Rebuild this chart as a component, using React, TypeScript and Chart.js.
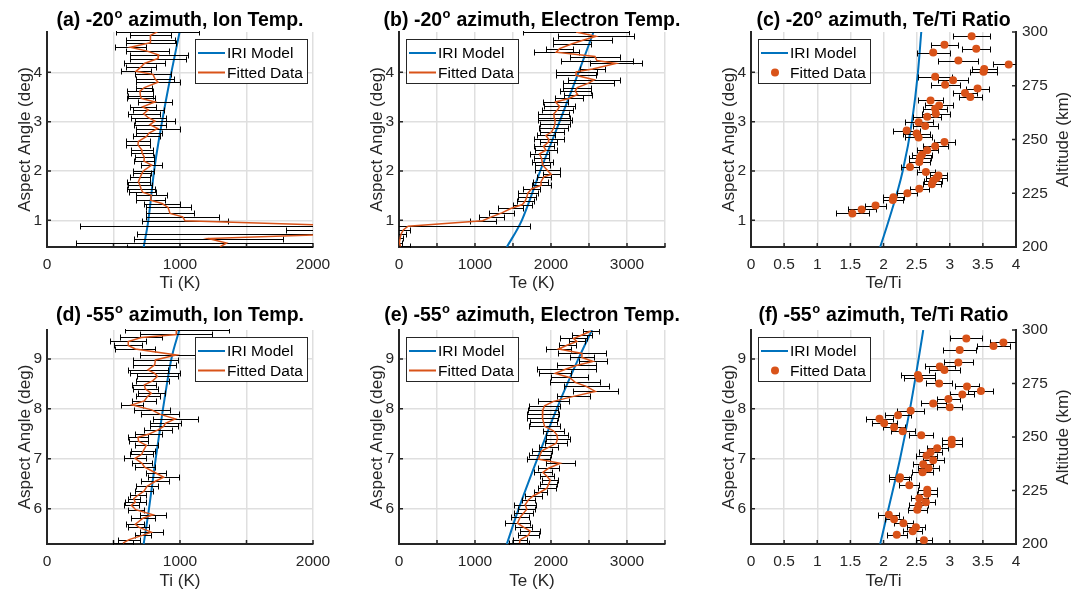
import React, { useEffect, useRef } from 'react';
import { Chart, registerables } from 'chart.js';

Chart.register(...registerables);

const FONT = '"Liberation Sans", Arial, Helvetica, sans-serif';
const BLUE = '#0072BD';
const ORANGE = '#D95319';
const AXIS = '#262626';
const GRID = '#dfdfdf';
const TXT = '#262626';

// ---------- tick values ----------
const tiTicks = [0, 500, 1000, 1500, 2000];
const teTicks = [0, 500, 1000, 1500, 2000, 2500, 3000, 3500];
const ratioTicks = [0, 0.5, 1, 1.5, 2, 2.5, 3, 3.5, 4];
const topAngleTicks = [1, 2, 3, 4];
const bottomAngleTicks = [6, 7, 8, 9];
const altitudeTicks = [200, 225, 250, 275, 300];

// ---------- (a) -20 azimuth, ion temperature ----------
const aAngle = [4.82, 4.75, 4.66, 4.6, 4.51, 4.43, 4.35, 4.28, 4.18, 4.11, 4.02, 3.96, 3.87, 3.8, 3.69, 3.62, 3.53, 3.47, 3.4, 3.3, 3.24, 3.16, 3.08, 3.01, 2.94, 2.86, 2.77, 2.7, 2.6, 2.53, 2.43, 2.37, 2.28, 2.2, 2.12, 2.0, 1.95, 1.88, 1.78, 1.71, 1.64, 1.57, 1.51, 1.41, 1.34, 1.26, 1.14, 1.07, 0.99, 0.88, 0.8, 0.73, 0.63, 0.54, 0.46];
const aTi = [830, 777, 777, 779, 627, 754, 840, 835, 732, 707, 669, 797, 812, 835, 732, 699, 702, 709, 812, 719, 762, 727, 762, 812, 774, 832, 767, 749, 687, 684, 712, 714, 732, 729, 787, 724, 714, 702, 687, 699, 707, 719, 784, 779, 865, 910, 925, 1020, 1038, 2400, 2500, 2300, 1213, 1350, 1300];
const aTiErr = [313, 156, 182, 188, 119, 163, 219, 208, 153, 115, 115, 138, 140, 163, 60, 96, 94, 106, 128, 98, 115, 119, 134, 154, 122, 165, 96, 104, 90, 88, 84, 86, 69, 75, 79, 78, 69, 75, 84, 91, 103, 103, 118, 109, 132, 169, 178, 273, 322, 2150, 700, 1620, 560, 1130, 700];

// ---------- (b) -20 azimuth, electron temperature ----------
const bAngle = [4.82, 4.73, 4.65, 4.58, 4.48, 4.41, 4.32, 4.24, 4.18, 4.07, 4.01, 3.94, 3.85, 3.78, 3.69, 3.62, 3.55, 3.47, 3.4, 3.31, 3.24, 3.16, 3.08, 3.03, 2.95, 2.88, 2.79, 2.72, 2.64, 2.59, 2.5, 2.42, 2.35, 2.26, 2.18, 2.12, 2.01, 1.93, 1.88, 1.78, 1.71, 1.64, 1.55, 1.47, 1.39, 1.32, 1.24, 1.15, 1.07, 0.99, 0.88, 0.81, 0.73, 0.64, 0.55, 0.47];
const bTe = [2330, 2591, 2420, 2279, 2113, 2069, 2578, 2604, 2855, 2547, 2332, 2328, 2569, 2495, 2345, 2319, 2350, 2236, 2060, 2113, 2086, 2038, 2042, 2055, 2051, 2038, 2007, 1933, 1972, 1968, 1902, 1933, 1849, 1875, 1884, 1889, 1954, 2003, 1906, 1867, 1871, 1748, 1695, 1682, 1660, 1625, 1471, 1353, 1217, 1100, 120, 60, 30, 15, 5, 20];
const bTeErr = [700, 505, 389, 252, 182, 296, 325, 472, 340, 165, 270, 266, 340, 338, 182, 206, 184, 182, 169, 204, 209, 204, 209, 220, 193, 191, 158, 121, 193, 110, 132, 143, 125, 105, 138, 99, 165, 110, 92, 99, 125, 110, 132, 121, 110, 121, 165, 165, 167, 170, 1600, 90, 60, 40, 30, 130];

// ---------- (c) -20 azimuth, Te/Ti ----------
const cAngle = [4.73, 4.56, 4.48, 4.4, 4.24, 4.16, 4.07, 4.01, 3.91, 3.84, 3.75, 3.67, 3.58, 3.5, 3.43, 3.33, 3.26, 3.16, 3.1, 2.99, 2.91, 2.82, 2.76, 2.68, 2.59, 2.5, 2.42, 2.33, 2.27, 2.18, 2.08, 1.98, 1.91, 1.86, 1.8, 1.73, 1.64, 1.55, 1.47, 1.41, 1.3, 1.22, 1.14];
const cRatio = [3.33, 2.92, 3.4, 2.75, 3.13, 3.89, 3.52, 3.51, 2.78, 3.05, 2.93, 3.42, 3.23, 3.31, 2.71, 2.84, 2.78, 2.79, 2.66, 2.53, 2.63, 2.35, 2.5, 2.53, 2.92, 2.78, 2.66, 2.58, 2.55, 2.54, 2.4, 2.64, 2.83, 2.8, 2.75, 2.73, 2.54, 2.36, 2.15, 2.14, 1.88, 1.67, 1.53];
const cRatioErr = [0.28, 0.2, 0.21, 0.25, 0.3, 0.24, 0.19, 0.21, 0.26, 0.23, 0.22, 0.17, 0.18, 0.17, 0.19, 0.21, 0.18, 0.21, 0.21, 0.21, 0.19, 0.2, 0.2, 0.2, 0.16, 0.19, 0.16, 0.15, 0.16, 0.16, 0.14, 0.13, 0.13, 0.16, 0.14, 0.14, 0.14, 0.15, 0.16, 0.15, 0.16, 0.21, 0.25];

// ---------- IRI model, top row ----------
const topIriAngle = [0.459, 1, 2, 3, 4, 4.818];
const aIriTi = [727, 762, 805, 865, 935, 997];
const bIriTe = [1419, 1616, 1858, 2113, 2363, 2560];
const cIriRatio = [1.95, 2.08, 2.29, 2.43, 2.52, 2.57];

// ---------- (d) -55 azimuth, ion temperature ----------
const dAngle = [9.58, 9.49, 9.43, 9.35, 9.27, 9.2, 9.08, 8.98, 8.88, 8.78, 8.71, 8.65, 8.56, 8.48, 8.4, 8.31, 8.25, 8.16, 8.08, 7.98, 7.89, 7.8, 7.71, 7.65, 7.58, 7.49, 7.43, 7.35, 7.27, 7.16, 7.09, 7.01, 6.91, 6.83, 6.71, 6.63, 6.55, 6.45, 6.35, 6.27, 6.2, 6.13, 6.07, 5.98, 5.88, 5.81, 5.69, 5.63, 5.53, 5.47, 5.38, 5.31];
const dTi = [975, 972, 709, 611, 611, 664, 972, 815, 810, 759, 810, 830, 794, 732, 739, 784, 757, 732, 639, 787, 852, 965, 890, 877, 835, 762, 684, 689, 747, 724, 712, 662, 714, 734, 822, 877, 815, 752, 729, 684, 652, 664, 634, 667, 797, 722, 664, 689, 784, 722, 617, 571];
const dTiErr = [392, 269, 157, 135, 104, 149, 276, 169, 163, 150, 188, 154, 123, 90, 94, 100, 90, 90, 81, 135, 144, 169, 117, 106, 108, 103, 75, 69, 88, 91, 85, 85, 76, 75, 75, 119, 106, 81, 71, 63, 44, 81, 58, 59, 100, 90, 69, 81, 88, 63, 84, 75];

// ---------- (e) -55 azimuth, electron temperature ----------
const eAngle = [9.56, 9.48, 9.41, 9.35, 9.28, 9.2, 9.11, 9.03, 8.95, 8.87, 8.8, 8.71, 8.63, 8.53, 8.45, 8.35, 8.25, 8.15, 8.06, 7.98, 7.89, 7.81, 7.73, 7.65, 7.56, 7.48, 7.4, 7.31, 7.23, 7.16, 7.08, 6.99, 6.91, 6.81, 6.73, 6.65, 6.57, 6.49, 6.41, 6.33, 6.26, 6.18, 6.08, 5.99, 5.91, 5.83, 5.71, 5.63, 5.55, 5.47, 5.38, 5.31];
const eTe = [2526, 2407, 2297, 2341, 2218, 2100, 2407, 2407, 2552, 2332, 2200, 2055, 2244, 2319, 2464, 2583, 2297, 2033, 1915, 1893, 1893, 1884, 1902, 1915, 2033, 2077, 2086, 2068, 1967, 1880, 1858, 1836, 2121, 1967, 1893, 1946, 1990, 1968, 1946, 1858, 1770, 1704, 1660, 1682, 1638, 1594, 1559, 1638, 1726, 1704, 1594, 1585];
const eTeErr = [101, 132, 176, 110, 110, 167, 316, 163, 184, 255, 386, 211, 242, 329, 299, 299, 220, 206, 202, 198, 206, 202, 180, 206, 132, 145, 158, 141, 127, 132, 141, 154, 189, 136, 123, 97, 105, 110, 123, 83, 110, 92, 141, 110, 127, 119, 163, 110, 132, 141, 92, 132];

// ---------- (f) -55 azimuth, Te/Ti ----------
const fAngle = [9.41, 9.33, 9.26, 9.18, 8.93, 8.85, 8.78, 8.68, 8.61, 8.51, 8.45, 8.36, 8.29, 8.2, 8.11, 8.03, 7.96, 7.87, 7.8, 7.71, 7.63, 7.55, 7.47, 7.38, 7.29, 7.21, 7.13, 7.06, 6.97, 6.89, 6.81, 6.73, 6.63, 6.6, 6.47, 6.38, 6.3, 6.21, 6.13, 6.07, 5.98, 5.88, 5.79, 5.71, 5.63, 5.55, 5.48, 5.37];
const fRatio = [3.25, 3.81, 3.66, 3.15, 3.13, 2.85, 2.92, 2.52, 2.54, 2.84, 3.26, 3.47, 3.19, 2.98, 2.75, 3.0, 2.41, 2.22, 1.94, 2.01, 2.16, 2.29, 2.57, 3.03, 3.03, 2.81, 2.71, 2.65, 2.75, 2.6, 2.68, 2.59, 2.25, 2.24, 2.39, 2.66, 2.66, 2.54, 2.64, 2.53, 2.51, 2.08, 2.16, 2.3, 2.49, 2.44, 2.2, 2.61];
const fRatioErr = [0.24, 0.21, 0.25, 0.25, 0.22, 0.23, 0.23, 0.26, 0.23, 0.2, 0.18, 0.19, 0.18, 0.18, 0.19, 0.19, 0.2, 0.19, 0.2, 0.19, 0.17, 0.18, 0.18, 0.15, 0.15, 0.16, 0.17, 0.16, 0.16, 0.15, 0.16, 0.16, 0.17, 0.15, 0.15, 0.14, 0.15, 0.13, 0.13, 0.14, 0.14, 0.16, 0.14, 0.14, 0.14, 0.14, 0.15, 0.12];

// ---------- IRI model, bottom row ----------
const bottomIriAngle = [5.293, 6, 7, 8, 9, 9.58];
const dIriTi = [727, 767, 817, 872, 935, 995];
const eIriTe = [1419, 1575, 1820, 2075, 2360, 2540];
const fIriRatio = [1.95, 2.075, 2.25, 2.4, 2.53, 2.6];

type Panel = {
  key: string;
  left: number; top: number; width: number; height: number;
  padTop: number; padRight: number; yAxisW: number; xAxisH: number;
  titleBaseline: number;
  t1: string; t3: string;
  xMin: number; xMax: number; xTicks: number[]; xLabel: (v: number) => string; xTitle: string;
  yMin: number; yMax: number; yTicks: number[];
  fitY: number[]; fitX: number[]; fitErr: number[];
  iriY: number[]; iriX: number[];
  dots: boolean; legendSide: 'left' | 'right'; altitude: boolean;
};

const thousands = (v: number) => (v % 1000 === 0 ? String(v) : '');
const plain = (v: number) => String(v);

const TOP = { top: 0, height: 297, padTop: 32, xAxisH: 50, titleBaseline: 26, yMin: 0.459, yMax: 4.818, yTicks: topAngleTicks };
const BOT = { top: 297, height: 298, padTop: 33, xAxisH: 51, titleBaseline: 24, yMin: 5.293, yMax: 9.58, yTicks: bottomAngleTicks };
const C1 = { left: 0, width: 352, padRight: 39, yAxisW: 47 };
const C2 = { left: 352, width: 352, padRight: 39, yAxisW: 47 };
const C3 = { left: 704, width: 382, padRight: 0, yAxisW: 47 };

const panels: Panel[] = [
  { key: 'a', ...TOP, ...C1, t1: '(a) -20', t3: ' azimuth, Ion Temp.', xMin: 0, xMax: 2000, xTicks: tiTicks, xLabel: thousands, xTitle: 'Ti (K)', fitY: aAngle, fitX: aTi, fitErr: aTiErr, iriY: topIriAngle, iriX: aIriTi, dots: false, legendSide: 'right', altitude: false },
  { key: 'b', ...TOP, ...C2, t1: '(b) -20', t3: ' azimuth, Electron Temp.', xMin: 0, xMax: 3500, xTicks: teTicks, xLabel: thousands, xTitle: 'Te (K)', fitY: bAngle, fitX: bTe, fitErr: bTeErr, iriY: topIriAngle, iriX: bIriTe, dots: false, legendSide: 'left', altitude: false },
  { key: 'c', ...TOP, ...C3, t1: '(c) -20', t3: ' azimuth, Te/Ti Ratio', xMin: 0, xMax: 4, xTicks: ratioTicks, xLabel: plain, xTitle: 'Te/Ti', fitY: cAngle, fitX: cRatio, fitErr: cRatioErr, iriY: topIriAngle, iriX: cIriRatio, dots: true, legendSide: 'left', altitude: true },
  { key: 'd', ...BOT, ...C1, t1: '(d) -55', t3: ' azimuth, Ion Temp.', xMin: 0, xMax: 2000, xTicks: tiTicks, xLabel: thousands, xTitle: 'Ti (K)', fitY: dAngle, fitX: dTi, fitErr: dTiErr, iriY: bottomIriAngle, iriX: dIriTi, dots: false, legendSide: 'right', altitude: false },
  { key: 'e', ...BOT, ...C2, t1: '(e) -55', t3: ' azimuth, Electron Temp.', xMin: 0, xMax: 3500, xTicks: teTicks, xLabel: thousands, xTitle: 'Te (K)', fitY: eAngle, fitX: eTe, fitErr: eTeErr, iriY: bottomIriAngle, iriX: eIriTe, dots: false, legendSide: 'left', altitude: false },
  { key: 'f', ...BOT, ...C3, t1: '(f) -55', t3: ' azimuth, Te/Ti Ratio', xMin: 0, xMax: 4, xTicks: ratioTicks, xLabel: plain, xTitle: 'Te/Ti', fitY: fAngle, fitX: fRatio, fitErr: fRatioErr, iriY: bottomIriAngle, iriX: fIriRatio, dots: true, legendSide: 'left', altitude: true },
];

const errorBarPlugin = {
  id: 'errbars',
  beforeDatasetDraw(chart: any, args: any) {
    if (args.index !== 0) return;
    const ds: any = chart.data.datasets[0];
    const errs: number[] = ds.errors;
    if (!errs) return;
    const xs = chart.scales.x;
    const ys = chart.scales.y;
    const { left, right, top, bottom } = chart.chartArea;
    const ctx = chart.ctx;
    ctx.save();
    ctx.beginPath();
    ctx.rect(left, top - 1, right - left, bottom - top + 2);
    ctx.clip();
    ctx.strokeStyle = '#000';
    ctx.lineWidth = 1;
    ctx.beginPath();
    ds.data.forEach((p: any, i: number) => {
      const py = Math.round(ys.getPixelForValue(p.y)) + 0.5;
      const x1 = Math.round(xs.getPixelForValue(p.x - errs[i])) + 0.5;
      const x2 = Math.round(xs.getPixelForValue(p.x + errs[i])) + 0.5;
      ctx.moveTo(x1, py); ctx.lineTo(x2, py);
      ctx.moveTo(x1, py - 3); ctx.lineTo(x1, py + 3);
      ctx.moveTo(x2, py - 3); ctx.lineTo(x2, py + 3);
    });
    ctx.stroke();
    ctx.restore();
  },
};

const inwardTicksPlugin = {
  id: 'inticks',
  beforeDatasetsDraw(chart: any) {
    const ctx = chart.ctx;
    const a = chart.chartArea;
    ctx.save();
    ctx.strokeStyle = AXIS;
    ctx.lineWidth = 1.5;
    ctx.beginPath();
    Object.keys(chart.scales).forEach((id) => {
      const s: any = chart.scales[id];
      s.ticks.forEach((t: any) => {
        const p = s.getPixelForValue(t.value);
        if (s.axis === 'x') { ctx.moveTo(p, a.bottom); ctx.lineTo(p, a.bottom - 4); }
        else if (s.position === 'left') { ctx.moveTo(a.left, p); ctx.lineTo(a.left + 4, p); }
        else { ctx.moveTo(a.right, p); ctx.lineTo(a.right - 4, p); }
      });
    });
    ctx.stroke();
    ctx.restore();
  },
};

function makeDecorPlugin(p: Panel) {
  return {
    id: 'decor' + p.key,
    afterDatasetsDraw(chart: any) {
      const ctx = chart.ctx;
      const a = chart.chartArea;
      ctx.save();
      // legend
      ctx.font = `15.5px ${FONT}`;
      const labels = ['IRI Model', 'Fitted Data'];
      const tw = Math.max(...labels.map((l) => ctx.measureText(l).width));
      const w = Math.round(33 + tw + 3);
      const h = 44;
      const x0 = p.legendSide === 'right' ? Math.round(a.right - 6 - w) : Math.round(a.left + 7);
      const y0 = Math.round(a.top + 7);
      ctx.fillStyle = '#fff';
      ctx.fillRect(x0, y0, w, h);
      ctx.strokeStyle = AXIS;
      ctx.lineWidth = 1;
      ctx.strokeRect(x0 + 0.5, y0 + 0.5, w, h);
      const r1 = y0 + 14;
      const r2 = y0 + 33.5;
      ctx.strokeStyle = BLUE;
      ctx.lineWidth = 2;
      ctx.beginPath(); ctx.moveTo(x0 + 3, r1); ctx.lineTo(x0 + 30, r1); ctx.stroke();
      if (p.dots) {
        ctx.fillStyle = ORANGE;
        ctx.beginPath(); ctx.arc(x0 + 17, r2, 4, 0, Math.PI * 2); ctx.fill();
      } else {
        ctx.strokeStyle = ORANGE;
        ctx.lineWidth = 2;
        ctx.beginPath(); ctx.moveTo(x0 + 3, r2); ctx.lineTo(x0 + 30, r2); ctx.stroke();
      }
      ctx.fillStyle = '#000';
      ctx.textAlign = 'left';
      ctx.textBaseline = 'middle';
      ctx.fillText(labels[0], x0 + 32, r1 + 1);
      ctx.fillText(labels[1], x0 + 32, r2 + 1);
      ctx.restore();
    },
    afterDraw(chart: any) {
      const ctx = chart.ctx;
      const a = chart.chartArea;
      ctx.save();
      const big = `bold 19.5px ${FONT}`;
      const small = `bold 13px ${FONT}`;
      ctx.fillStyle = '#000';
      ctx.textAlign = 'left';
      ctx.textBaseline = 'alphabetic';
      ctx.font = big;
      const w1 = ctx.measureText(p.t1).width;
      const w3 = ctx.measureText(p.t3).width;
      ctx.font = small;
      const w2 = ctx.measureText('o').width;
      const total = w1 + w2 + 1 + w3;
      let x = (a.left + a.right) / 2 - total / 2;
      const y = p.titleBaseline;
      ctx.font = big; ctx.fillText(p.t1, x, y); x += w1 + 0.5;
      ctx.font = small; ctx.fillText('o', x, y - 8.5); x += w2 + 0.5;
      ctx.font = big; ctx.fillText(p.t3, x, y);
      ctx.restore();
      if (p.altitude) {
        // right-axis title, reading bottom-to-top like the left one
        ctx.save();
        ctx.font = `17px ${FONT}`;
        ctx.fillStyle = TXT;
        ctx.textAlign = 'center';
        ctx.textBaseline = 'middle';
        ctx.translate(chart.width - 23, (a.top + a.bottom) / 2);
        ctx.rotate(-Math.PI / 2);
        ctx.fillText('Altitude (km)', 0, 0);
        ctx.restore();
      }
    },
  };
}

function buildConfig(p: Panel): any {
  const tickFont = { family: FONT, size: 15.5 };
  const labelFont = { family: FONT, size: 17 };
  const scales: any = {
    x: {
      type: 'linear', min: p.xMin, max: p.xMax,
      afterBuildTicks: (s: any) => { s.ticks = p.xTicks.map((v) => ({ value: v })); },
      afterFit: (s: any) => { s.height = p.xAxisH; s.paddingLeft = 0; s.paddingRight = 0; },
      ticks: { font: tickFont, color: TXT, padding: 8, autoSkip: false, maxRotation: 0, minRotation: 0, callback: (v: number) => p.xLabel(v) },
      grid: { color: GRID, lineWidth: 1.5, drawTicks: false },
      border: { display: true, color: AXIS, width: 2 },
      title: { display: true, text: p.xTitle, font: labelFont, color: TXT, padding: { top: 0, bottom: 3 } },
    },
    y: {
      type: 'linear', position: 'left', min: p.yMin, max: p.yMax,
      afterBuildTicks: (s: any) => { s.ticks = p.yTicks.map((v) => ({ value: v })); },
      afterFit: (s: any) => { s.width = p.yAxisW; s.paddingTop = 0; s.paddingBottom = 0; },
      ticks: { font: tickFont, color: TXT, padding: 5, autoSkip: false, callback: (v: number) => String(v) },
      grid: { color: GRID, lineWidth: 1.5, drawTicks: false },
      border: { display: true, color: AXIS, width: 2 },
      title: { display: true, text: 'Aspect Angle (deg)', font: labelFont, color: TXT, padding: { top: 15, bottom: 0 } },
    },
  };
  if (p.altitude) {
    scales.y2 = {
      type: 'linear', position: 'right', min: 200, max: 300,
      afterBuildTicks: (s: any) => { s.ticks = altitudeTicks.map((v) => ({ value: v })); },
      afterFit: (s: any) => { s.width = 70; s.paddingTop = 0; s.paddingBottom = 0; },
      ticks: { font: tickFont, color: TXT, padding: 6, autoSkip: false, callback: (v: number) => String(v) },
      grid: { drawOnChartArea: false, drawTicks: false },
      border: { display: true, color: AXIS, width: 2 },
      title: { display: false },
    };
  }
  const fitData = p.fitY.map((y, i) => ({ x: p.fitX[i], y }));
  const iriData = p.iriY.map((y, i) => ({ x: p.iriX[i], y }));
  const fitted: any = p.dots
    ? { label: 'Fitted Data', data: fitData, errors: p.fitErr, showLine: false, pointRadius: 4, pointBackgroundColor: ORANGE, pointBorderColor: ORANGE, pointBorderWidth: 0, pointHoverRadius: 4 }
    : { label: 'Fitted Data', data: fitData, errors: p.fitErr, showLine: true, borderColor: ORANGE, borderWidth: 1.5, pointRadius: 0, tension: 0 };
  const iri: any = { label: 'IRI Model', data: iriData, showLine: true, borderColor: BLUE, borderWidth: 2, pointRadius: 0, cubicInterpolationMode: 'monotone' };
  return {
    type: 'scatter',
    data: { datasets: [fitted, iri] },
    options: {
      animation: false,
      responsive: false,
      maintainAspectRatio: false,
      devicePixelRatio: 1,
      events: [],
      layout: { padding: { left: 0, top: p.padTop, right: p.padRight, bottom: 0 }, autoPadding: false },
      plugins: { legend: { display: false }, tooltip: { enabled: false }, title: { display: false } },
      scales,
    },
    plugins: [errorBarPlugin, inwardTicksPlugin, makeDecorPlugin(p)],
  };
}

function PanelChart({ p }: { p: Panel }) {
  const ref = useRef<HTMLCanvasElement>(null);
  useEffect(() => {
    if (!ref.current) return;
    const chart = new Chart(ref.current, buildConfig(p));
    return () => chart.destroy();
  }, [p]);
  return (
    <canvas
      ref={ref}
      width={p.width}
      height={p.height}
      style={{ position: 'absolute', left: p.left, top: p.top, width: p.width, height: p.height }}
    />
  );
}

export default function App() {
  return (
    <div style={{ position: 'fixed', left: 0, top: 0, width: 1086, height: 595, background: '#fff', overflow: 'hidden' }}>
      {panels.map((p) => (
        <PanelChart key={p.key} p={p} />
      ))}
    </div>
  );
}
